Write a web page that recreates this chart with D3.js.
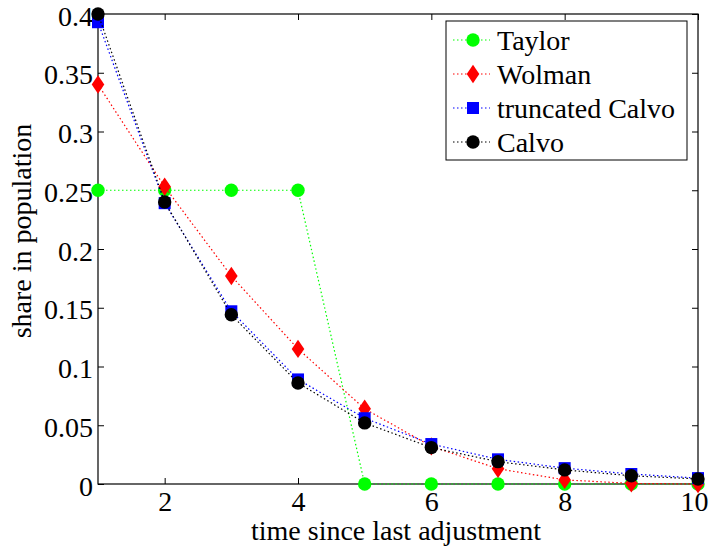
<!DOCTYPE html>
<html>
<head>
<meta charset="utf-8">
<script src="https://cdn.jsdelivr.net/npm/d3@7"></script>
<style>
  body { margin: 0; background: #fff; }
  svg text { font-family: "Liberation Serif", "Times New Roman", serif; }
</style>
</head>
<body>
<div id="chart"></div>
<script>
// data
var periods = [1, 2, 3, 4, 5, 6, 7, 8, 9, 10];
var taylor = [0.25, 0.25, 0.25, 0.25, 0, 0, 0, 0, 0, 0];
var wolman = [0.34, 0.253, 0.177, 0.115, 0.064, 0.032, 0.013, 0.0035, 0.0005, 0.0];
var truncCalvo = [0.393, 0.239, 0.147, 0.089, 0.056, 0.034, 0.021, 0.0135, 0.0085, 0.005];
var calvo = [0.4, 0.24, 0.144, 0.086, 0.052, 0.031, 0.019, 0.012, 0.007, 0.0043];
var xTicks = [2, 4, 6, 8, 10];
var yTicks = [0, 0.05, 0.1, 0.15, 0.2, 0.25, 0.3, 0.35, 0.4];

var seriesList = [
    { name: "Taylor", values: taylor, color: "#00ff00", marker: "circle" },
    { name: "Wolman", values: wolman, color: "#ff0000", marker: "diamond" },
    { name: "truncated Calvo", values: truncCalvo, color: "#0000ff", marker: "square" },
    { name: "Calvo", values: calvo, color: "#000000", marker: "circle" }
];

var width = 710, height = 548;
var margin = { top: 14, right: 12, bottom: 64, left: 98 };
var innerW = width - margin.left - margin.right;
var innerH = height - margin.top - margin.bottom;
var fontSize = 28;
var serif = "'Liberation Serif', 'Times New Roman', serif";

var xscale = d3.scaleLinear().domain([1, 10]).range([0, innerW]);
var yscale = d3.scaleLinear().domain([0, 0.4]).range([innerH, 0]);

var svg = d3.select("#chart").append("svg")
    .attr("width", width)
    .attr("height", height);
var g = svg.append("g")
    .attr("transform", "translate(" + margin.left + "," + margin.top + ")");

// axes, ticks pointing inwards
var tickLen = 6;
var xAxisG = g.append("g").attr("transform", "translate(0," + innerH + ")")
    .call(d3.axisBottom(xscale).tickValues(xTicks).tickSizeInner(-tickLen).tickSizeOuter(0).tickPadding(7));
// last label sits against the right edge
xAxisG.selectAll(".tick text").filter(function (d) { return d == 10; }).attr("dx", "-4");
g.append("g")
    .call(d3.axisTop(xscale).tickValues(xTicks).tickSizeInner(-tickLen).tickSizeOuter(0).tickFormat(""));
var yAxisG = g.append("g")
    .call(d3.axisLeft(yscale).tickValues(yTicks).tickSizeInner(-tickLen).tickSizeOuter(0).tickPadding(5)
        .tickFormat(function (d) { return d3.format("")(+d.toFixed(2)); }));
yAxisG.selectAll(".tick text").attr("dy", "0.4em");
g.append("g").attr("transform", "translate(" + innerW + ",0)")
    .call(d3.axisRight(yscale).tickValues(yTicks).tickSizeInner(-tickLen).tickSizeOuter(0).tickFormat(""));

g.selectAll(".domain").remove();
g.selectAll("g").attr("font-family", serif).attr("font-size", fontSize);
g.selectAll(".tick line").attr("stroke", "#000").attr("stroke-width", 1);
g.selectAll(".tick text").attr("font-size", fontSize).attr("fill", "#000")
    .style("font-family", serif);

g.append("rect")
    .attr("x", 0).attr("y", 0)
    .attr("width", innerW).attr("height", innerH)
    .attr("fill", "none").attr("stroke", "#000").attr("stroke-width", 1.2);

// marker helper
function drawMarker(sel, type, color) {
    if (type == "circle") {
        sel.append("circle").attr("r", 6.7).attr("fill", color);
    } else if (type == "diamond") {
        sel.append("path").attr("d", "M0,-9.2L6.3,0L0,9.2L-6.3,0Z").attr("fill", color);
    } else {
        sel.append("rect").attr("x", -6).attr("y", -6).attr("width", 12).attr("height", 12).attr("fill", color);
    }
}

var line = d3.line()
    .x(function (d) { return xscale(d[0]); })
    .y(function (d) { return yscale(d[1]); });

seriesList.forEach(function (s) {
    var pts = periods.map(function (p, i) { return [p, s.values[i]]; });
    g.append("path")
        .datum(pts)
        .attr("d", line)
        .attr("fill", "none")
        .attr("stroke", s.color)
        .attr("stroke-width", 1.2)
        .attr("stroke-dasharray", "1.5,2.5");
    pts.forEach(function (d) {
        var m = g.append("g").attr("transform", "translate(" + xscale(d[0]) + "," + yscale(d[1]) + ")");
        drawMarker(m, s.marker, s.color);
    });
});

// legend
var legend = svg.append("g").attr("transform", "translate(446,21)");
legend.append("rect")
    .attr("width", 241).attr("height", 139)
    .attr("fill", "#fff").attr("stroke", "#000").attr("stroke-width", 1);
seriesList.forEach(function (s, i) {
    var row = legend.append("g").attr("transform", "translate(0," + (19 + i * 34) + ")");
    row.append("line")
        .attr("x1", 7).attr("x2", 44).attr("y1", 0).attr("y2", 0)
        .attr("stroke", s.color).attr("stroke-width", 1.2).attr("stroke-dasharray", "1.5,2.5");
    drawMarker(row.append("g").attr("transform", "translate(27,0)"), s.marker, s.color);
    row.append("text")
        .attr("x", 51).attr("y", 10)
        .attr("font-size", fontSize)
        .text(s.name);
});

// axis labels
svg.append("text")
    .attr("x", 396).attr("y", 540)
    .attr("text-anchor", "middle")
    .attr("font-size", fontSize)
    .text("time since last adjustment");
svg.append("text")
    .attr("transform", "translate(31,231) rotate(-90)")
    .attr("text-anchor", "middle")
    .attr("font-size", fontSize)
    .text("share in population");
</script>
</body>
</html>
